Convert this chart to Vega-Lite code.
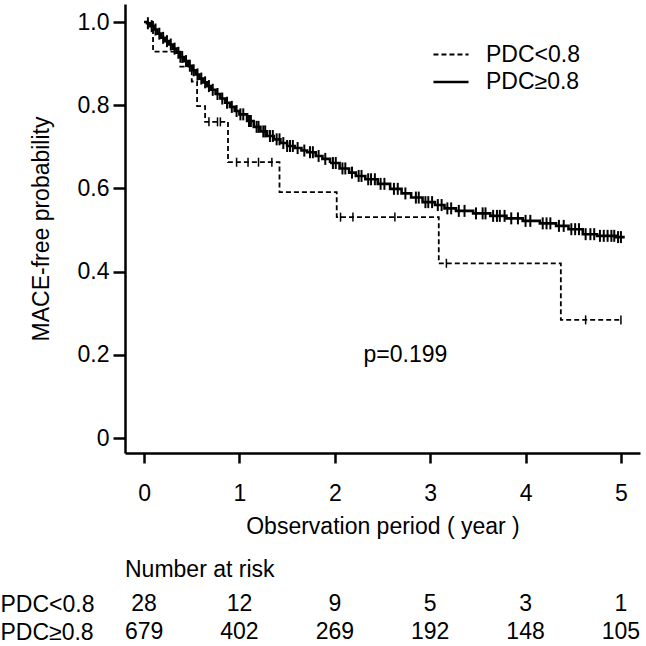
{
  "$schema": "https://vega.github.io/schema/vega-lite/v6.json",
  "autosize": {"type": "pad"},
  "padding": {"left": 0, "top": 4, "right": 0, "bottom": 0},
  "background": "white",
  "spacing": 21,
  "datasets": {
    "curve": [
      {"group": "PDC<0.8", "year": 0, "surv": 1.0},
      {"group": "PDC<0.8", "year": 0.094, "surv": 0.929},
      {"group": "PDC<0.8", "year": 0.38, "surv": 0.893},
      {"group": "PDC<0.8", "year": 0.5, "surv": 0.857},
      {"group": "PDC<0.8", "year": 0.556, "surv": 0.798},
      {"group": "PDC<0.8", "year": 0.64, "surv": 0.76},
      {"group": "PDC<0.8", "year": 0.88, "surv": 0.663},
      {"group": "PDC<0.8", "year": 1.42, "surv": 0.591},
      {"group": "PDC<0.8", "year": 2.02, "surv": 0.531},
      {"group": "PDC<0.8", "year": 3.09, "surv": 0.42},
      {"group": "PDC<0.8", "year": 4.37, "surv": 0.284},
      {"group": "PDC<0.8", "year": 5.0, "surv": 0.284},
      {"group": "PDC≥0.8", "year": 0, "surv": 1.0},
      {"group": "PDC≥0.8", "year": 0.03, "surv": 0.997},
      {"group": "PDC≥0.8", "year": 0.06, "surv": 0.99},
      {"group": "PDC≥0.8", "year": 0.1, "surv": 0.982},
      {"group": "PDC≥0.8", "year": 0.14, "surv": 0.972},
      {"group": "PDC≥0.8", "year": 0.18, "surv": 0.962},
      {"group": "PDC≥0.8", "year": 0.22, "surv": 0.954},
      {"group": "PDC≥0.8", "year": 0.26, "surv": 0.946},
      {"group": "PDC≥0.8", "year": 0.3, "surv": 0.936},
      {"group": "PDC≥0.8", "year": 0.34, "surv": 0.926},
      {"group": "PDC≥0.8", "year": 0.38, "surv": 0.916},
      {"group": "PDC≥0.8", "year": 0.42, "surv": 0.906},
      {"group": "PDC≥0.8", "year": 0.46, "surv": 0.895},
      {"group": "PDC≥0.8", "year": 0.5, "surv": 0.884},
      {"group": "PDC≥0.8", "year": 0.54, "surv": 0.874},
      {"group": "PDC≥0.8", "year": 0.58, "surv": 0.864},
      {"group": "PDC≥0.8", "year": 0.62, "surv": 0.855},
      {"group": "PDC≥0.8", "year": 0.66, "surv": 0.846},
      {"group": "PDC≥0.8", "year": 0.7, "surv": 0.837},
      {"group": "PDC≥0.8", "year": 0.75, "surv": 0.827},
      {"group": "PDC≥0.8", "year": 0.8, "surv": 0.816},
      {"group": "PDC≥0.8", "year": 0.85, "surv": 0.806},
      {"group": "PDC≥0.8", "year": 0.9, "surv": 0.796},
      {"group": "PDC≥0.8", "year": 0.95, "surv": 0.786},
      {"group": "PDC≥0.8", "year": 1.0, "surv": 0.778},
      {"group": "PDC≥0.8", "year": 1.08, "surv": 0.762},
      {"group": "PDC≥0.8", "year": 1.15, "surv": 0.748},
      {"group": "PDC≥0.8", "year": 1.22, "surv": 0.737},
      {"group": "PDC≥0.8", "year": 1.29, "surv": 0.726},
      {"group": "PDC≥0.8", "year": 1.36, "surv": 0.718},
      {"group": "PDC≥0.8", "year": 1.43, "surv": 0.709},
      {"group": "PDC≥0.8", "year": 1.5, "surv": 0.702},
      {"group": "PDC≥0.8", "year": 1.58, "surv": 0.697},
      {"group": "PDC≥0.8", "year": 1.65, "surv": 0.691},
      {"group": "PDC≥0.8", "year": 1.71, "surv": 0.687},
      {"group": "PDC≥0.8", "year": 1.8, "surv": 0.678},
      {"group": "PDC≥0.8", "year": 1.87, "surv": 0.671},
      {"group": "PDC≥0.8", "year": 1.95, "surv": 0.661},
      {"group": "PDC≥0.8", "year": 2.05, "surv": 0.648},
      {"group": "PDC≥0.8", "year": 2.15, "surv": 0.638},
      {"group": "PDC≥0.8", "year": 2.22, "surv": 0.63},
      {"group": "PDC≥0.8", "year": 2.32, "surv": 0.622},
      {"group": "PDC≥0.8", "year": 2.45, "surv": 0.611},
      {"group": "PDC≥0.8", "year": 2.58, "surv": 0.599},
      {"group": "PDC≥0.8", "year": 2.7, "surv": 0.588},
      {"group": "PDC≥0.8", "year": 2.8, "surv": 0.578},
      {"group": "PDC≥0.8", "year": 2.92, "surv": 0.567},
      {"group": "PDC≥0.8", "year": 3.05, "surv": 0.56},
      {"group": "PDC≥0.8", "year": 3.15, "surv": 0.552},
      {"group": "PDC≥0.8", "year": 3.27, "surv": 0.546},
      {"group": "PDC≥0.8", "year": 3.45, "surv": 0.54},
      {"group": "PDC≥0.8", "year": 3.63, "surv": 0.534},
      {"group": "PDC≥0.8", "year": 3.8, "surv": 0.528},
      {"group": "PDC≥0.8", "year": 3.97, "surv": 0.522},
      {"group": "PDC≥0.8", "year": 4.15, "surv": 0.516},
      {"group": "PDC≥0.8", "year": 4.32, "surv": 0.51},
      {"group": "PDC≥0.8", "year": 4.45, "surv": 0.502},
      {"group": "PDC≥0.8", "year": 4.6, "surv": 0.49},
      {"group": "PDC≥0.8", "year": 4.75, "surv": 0.486},
      {"group": "PDC≥0.8", "year": 4.95, "surv": 0.483},
      {"group": "PDC≥0.8", "year": 5.04, "surv": 0.483}
    ],
    "censored": [
      {"group": "PDC<0.8", "year": 0.68, "surv": 0.76},
      {"group": "PDC<0.8", "year": 0.77, "surv": 0.76},
      {"group": "PDC<0.8", "year": 0.8, "surv": 0.76},
      {"group": "PDC<0.8", "year": 0.97, "surv": 0.663},
      {"group": "PDC<0.8", "year": 1.09, "surv": 0.663},
      {"group": "PDC<0.8", "year": 1.2, "surv": 0.663},
      {"group": "PDC<0.8", "year": 1.34, "surv": 0.663},
      {"group": "PDC<0.8", "year": 2.06, "surv": 0.531},
      {"group": "PDC<0.8", "year": 2.19, "surv": 0.531},
      {"group": "PDC<0.8", "year": 2.63, "surv": 0.531},
      {"group": "PDC<0.8", "year": 3.17, "surv": 0.42},
      {"group": "PDC<0.8", "year": 4.63, "surv": 0.284},
      {"group": "PDC<0.8", "year": 5.0, "surv": 0.284},
      {"group": "PDC≥0.8", "year": 0.04, "surv": 0.997},
      {"group": "PDC≥0.8", "year": 0.08, "surv": 0.99},
      {"group": "PDC≥0.8", "year": 0.12, "surv": 0.982},
      {"group": "PDC≥0.8", "year": 0.16, "surv": 0.972},
      {"group": "PDC≥0.8", "year": 0.2, "surv": 0.962},
      {"group": "PDC≥0.8", "year": 0.24, "surv": 0.954},
      {"group": "PDC≥0.8", "year": 0.28, "surv": 0.946},
      {"group": "PDC≥0.8", "year": 0.32, "surv": 0.936},
      {"group": "PDC≥0.8", "year": 0.36, "surv": 0.926},
      {"group": "PDC≥0.8", "year": 0.4, "surv": 0.916},
      {"group": "PDC≥0.8", "year": 0.44, "surv": 0.906},
      {"group": "PDC≥0.8", "year": 0.48, "surv": 0.895},
      {"group": "PDC≥0.8", "year": 0.52, "surv": 0.884},
      {"group": "PDC≥0.8", "year": 0.56, "surv": 0.874},
      {"group": "PDC≥0.8", "year": 0.6, "surv": 0.864},
      {"group": "PDC≥0.8", "year": 0.64, "surv": 0.855},
      {"group": "PDC≥0.8", "year": 0.68, "surv": 0.846},
      {"group": "PDC≥0.8", "year": 0.72, "surv": 0.837},
      {"group": "PDC≥0.8", "year": 0.77, "surv": 0.827},
      {"group": "PDC≥0.8", "year": 0.82, "surv": 0.816},
      {"group": "PDC≥0.8", "year": 0.87, "surv": 0.806},
      {"group": "PDC≥0.8", "year": 0.92, "surv": 0.796},
      {"group": "PDC≥0.8", "year": 0.97, "surv": 0.786},
      {"group": "PDC≥0.8", "year": 1.01, "surv": 0.778},
      {"group": "PDC≥0.8", "year": 1.04, "surv": 0.778},
      {"group": "PDC≥0.8", "year": 1.1, "surv": 0.762},
      {"group": "PDC≥0.8", "year": 1.12, "surv": 0.762},
      {"group": "PDC≥0.8", "year": 1.18, "surv": 0.748},
      {"group": "PDC≥0.8", "year": 1.2, "surv": 0.748},
      {"group": "PDC≥0.8", "year": 1.25, "surv": 0.737},
      {"group": "PDC≥0.8", "year": 1.27, "surv": 0.737},
      {"group": "PDC≥0.8", "year": 1.32, "surv": 0.726},
      {"group": "PDC≥0.8", "year": 1.35, "surv": 0.726},
      {"group": "PDC≥0.8", "year": 1.39, "surv": 0.718},
      {"group": "PDC≥0.8", "year": 1.42, "surv": 0.718},
      {"group": "PDC≥0.8", "year": 1.46, "surv": 0.709},
      {"group": "PDC≥0.8", "year": 1.5, "surv": 0.702},
      {"group": "PDC≥0.8", "year": 1.53, "surv": 0.702},
      {"group": "PDC≥0.8", "year": 1.56, "surv": 0.702},
      {"group": "PDC≥0.8", "year": 1.61, "surv": 0.697},
      {"group": "PDC≥0.8", "year": 1.68, "surv": 0.691},
      {"group": "PDC≥0.8", "year": 1.74, "surv": 0.687},
      {"group": "PDC≥0.8", "year": 1.77, "surv": 0.687},
      {"group": "PDC≥0.8", "year": 1.83, "surv": 0.678},
      {"group": "PDC≥0.8", "year": 1.9, "surv": 0.671},
      {"group": "PDC≥0.8", "year": 1.98, "surv": 0.661},
      {"group": "PDC≥0.8", "year": 2.01, "surv": 0.661},
      {"group": "PDC≥0.8", "year": 2.08, "surv": 0.648},
      {"group": "PDC≥0.8", "year": 2.11, "surv": 0.648},
      {"group": "PDC≥0.8", "year": 2.18, "surv": 0.638},
      {"group": "PDC≥0.8", "year": 2.25, "surv": 0.63},
      {"group": "PDC≥0.8", "year": 2.28, "surv": 0.63},
      {"group": "PDC≥0.8", "year": 2.35, "surv": 0.622},
      {"group": "PDC≥0.8", "year": 2.38, "surv": 0.622},
      {"group": "PDC≥0.8", "year": 2.42, "surv": 0.622},
      {"group": "PDC≥0.8", "year": 2.48, "surv": 0.611},
      {"group": "PDC≥0.8", "year": 2.52, "surv": 0.611},
      {"group": "PDC≥0.8", "year": 2.62, "surv": 0.599},
      {"group": "PDC≥0.8", "year": 2.66, "surv": 0.599},
      {"group": "PDC≥0.8", "year": 2.74, "surv": 0.588},
      {"group": "PDC≥0.8", "year": 2.85, "surv": 0.578},
      {"group": "PDC≥0.8", "year": 2.88, "surv": 0.578},
      {"group": "PDC≥0.8", "year": 2.95, "surv": 0.567},
      {"group": "PDC≥0.8", "year": 2.98, "surv": 0.567},
      {"group": "PDC≥0.8", "year": 3.02, "surv": 0.567},
      {"group": "PDC≥0.8", "year": 3.08, "surv": 0.56},
      {"group": "PDC≥0.8", "year": 3.12, "surv": 0.56},
      {"group": "PDC≥0.8", "year": 3.18, "surv": 0.552},
      {"group": "PDC≥0.8", "year": 3.22, "surv": 0.552},
      {"group": "PDC≥0.8", "year": 3.3, "surv": 0.546},
      {"group": "PDC≥0.8", "year": 3.36, "surv": 0.546},
      {"group": "PDC≥0.8", "year": 3.48, "surv": 0.54},
      {"group": "PDC≥0.8", "year": 3.55, "surv": 0.54},
      {"group": "PDC≥0.8", "year": 3.58, "surv": 0.54},
      {"group": "PDC≥0.8", "year": 3.66, "surv": 0.534},
      {"group": "PDC≥0.8", "year": 3.7, "surv": 0.534},
      {"group": "PDC≥0.8", "year": 3.73, "surv": 0.534},
      {"group": "PDC≥0.8", "year": 3.78, "surv": 0.534},
      {"group": "PDC≥0.8", "year": 3.85, "surv": 0.528},
      {"group": "PDC≥0.8", "year": 3.92, "surv": 0.528},
      {"group": "PDC≥0.8", "year": 4.0, "surv": 0.522},
      {"group": "PDC≥0.8", "year": 4.05, "surv": 0.522},
      {"group": "PDC≥0.8", "year": 4.18, "surv": 0.516},
      {"group": "PDC≥0.8", "year": 4.22, "surv": 0.516},
      {"group": "PDC≥0.8", "year": 4.26, "surv": 0.516},
      {"group": "PDC≥0.8", "year": 4.35, "surv": 0.51},
      {"group": "PDC≥0.8", "year": 4.4, "surv": 0.51},
      {"group": "PDC≥0.8", "year": 4.48, "surv": 0.502},
      {"group": "PDC≥0.8", "year": 4.52, "surv": 0.502},
      {"group": "PDC≥0.8", "year": 4.56, "surv": 0.502},
      {"group": "PDC≥0.8", "year": 4.63, "surv": 0.49},
      {"group": "PDC≥0.8", "year": 4.68, "surv": 0.49},
      {"group": "PDC≥0.8", "year": 4.72, "surv": 0.49},
      {"group": "PDC≥0.8", "year": 4.78, "surv": 0.486},
      {"group": "PDC≥0.8", "year": 4.82, "surv": 0.486},
      {"group": "PDC≥0.8", "year": 4.86, "surv": 0.486},
      {"group": "PDC≥0.8", "year": 4.9, "surv": 0.486},
      {"group": "PDC≥0.8", "year": 4.93, "surv": 0.486},
      {"group": "PDC≥0.8", "year": 4.97, "surv": 0.483},
      {"group": "PDC≥0.8", "year": 5.0, "surv": 0.483}
    ],
    "note": [
      {"year": 2.74, "surv": 0.2, "label": "p=0.199"}
    ],
    "risk": [
      {"group": "PDC<0.8", "year": 0, "n": 28},
      {"group": "PDC<0.8", "year": 1, "n": 12},
      {"group": "PDC<0.8", "year": 2, "n": 9},
      {"group": "PDC<0.8", "year": 3, "n": 5},
      {"group": "PDC<0.8", "year": 4, "n": 3},
      {"group": "PDC<0.8", "year": 5, "n": 1},
      {"group": "PDC≥0.8", "year": 0, "n": 679},
      {"group": "PDC≥0.8", "year": 1, "n": 402},
      {"group": "PDC≥0.8", "year": 2, "n": 269},
      {"group": "PDC≥0.8", "year": 3, "n": 192},
      {"group": "PDC≥0.8", "year": 4, "n": 148},
      {"group": "PDC≥0.8", "year": 5, "n": 105}
    ]
  },
  "vconcat": [
    {
      "width": 515,
      "height": 449,
      "layer": [
        {
          "data": {"name": "curve"},
          "mark": {"type": "line", "interpolate": "step-after", "color": "black"},
          "encoding": {
            "x": {
              "field": "year", "type": "quantitative",
              "scale": {"domain": [-0.2, 5.2], "nice": false, "zero": false},
              "axis": {
                "values": [0, 1, 2, 3, 4, 5], "format": "d",
                "title": "Observation period ( year )",
                "tickSize": 10, "labelPadding": 19, "titlePadding": 10
              }
            },
            "y": {
              "field": "surv", "type": "quantitative",
              "scale": {"domain": [-0.036, 1.0433], "nice": false, "zero": false},
              "axis": {
                "values": [0, 0.2, 0.4, 0.6, 0.8, 1.0],
                "labelExpr": "datum.value == 0 ? '0' : format(datum.value, '.1f')",
                "title": "MACE-free probability",
                "tickSize": 12, "labelPadding": 4, "titlePadding": 24
              }
            },
            "strokeDash": {
              "field": "group", "type": "nominal",
              "scale": {"domain": ["PDC<0.8", "PDC≥0.8"], "range": [[5, 3], [1, 0]]},
              "legend": {
                "title": null, "orient": "none", "legendX": 311, "legendY": 36,
                "symbolType": "M-1.3,0H1.3", "symbolSize": 729, "symbolStrokeWidth": 2,
                "symbolStrokeColor": "black", "symbolFillColor": "transparent",
                "labelOffset": 20, "rowPadding": 0,
                "labelFont": "Liberation Sans", "labelFontSize": 23, "labelColor": "black",
                "padding": 0
              }
            },
            "strokeWidth": {
              "field": "group", "type": "nominal",
              "scale": {"domain": ["PDC<0.8", "PDC≥0.8"], "range": [1.8, 2.6]},
              "legend": null
            }
          }
        },
        {
          "data": {"name": "censored"},
          "transform": [{"filter": "datum.group === 'PDC<0.8'"}],
          "mark": {"type": "tick", "orient": "vertical", "color": "black", "size": 9, "thickness": 1.5, "opacity": 1},
          "encoding": {
            "x": {"field": "year", "type": "quantitative"},
            "y": {"field": "surv", "type": "quantitative"}
          }
        },
        {
          "data": {"name": "censored"},
          "transform": [{"filter": "datum.group === 'PDC≥0.8'"}],
          "mark": {"type": "tick", "orient": "vertical", "color": "black", "size": 12, "thickness": 2, "opacity": 1},
          "encoding": {
            "x": {"field": "year", "type": "quantitative"},
            "y": {"field": "surv", "type": "quantitative"}
          }
        },
        {
          "data": {"name": "note"},
          "mark": {"type": "text", "font": "Liberation Sans", "fontSize": 23, "color": "black", "align": "center", "baseline": "middle"},
          "encoding": {
            "x": {"field": "year", "type": "quantitative"},
            "y": {"field": "surv", "type": "quantitative"},
            "text": {"field": "label"}
          }
        }
      ]
    },
    {
      "width": 515,
      "height": 56,
      "title": {
        "text": "Number at risk", "anchor": "start", "frame": "group",
        "font": "Liberation Sans", "fontSize": 23, "fontWeight": "normal", "color": "black", "offset": 8
      },
      "data": {"name": "risk"},
      "mark": {"type": "text", "font": "Liberation Sans", "fontSize": 23, "color": "black", "align": "center", "baseline": "middle"},
      "encoding": {
        "x": {
          "field": "year", "type": "quantitative",
          "scale": {"domain": [-0.2, 5.2], "nice": false, "zero": false},
          "axis": null
        },
        "y": {
          "field": "group", "type": "nominal",
          "sort": ["PDC<0.8", "PDC≥0.8"],
          "scale": {"paddingInner": 0, "paddingOuter": 0},
          "axis": {
            "title": null, "domain": false, "ticks": false,
            "labelAlign": "left", "labelPadding": 125, "labelBaseline": "middle"
          }
        },
        "text": {"field": "n", "type": "quantitative"}
      }
    }
  ],
  "config": {
    "view": {"stroke": null},
    "axis": {
      "grid": false,
      "domainColor": "black", "domainWidth": 2.5,
      "tickColor": "black", "tickWidth": 2.5,
      "labelFont": "Liberation Sans", "labelFontSize": 23, "labelColor": "black",
      "titleFont": "Liberation Sans", "titleFontSize": 23, "titleFontWeight": "normal", "titleColor": "black"
    }
  }
}
